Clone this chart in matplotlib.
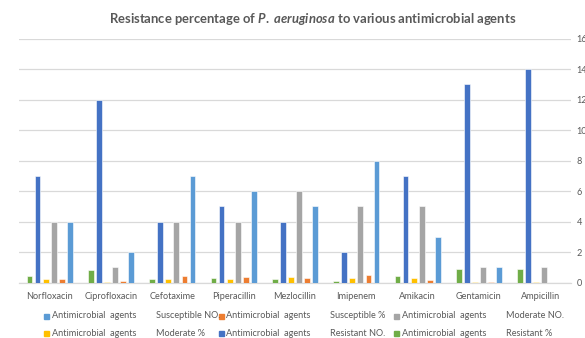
import matplotlib
matplotlib.use("Agg")
import matplotlib.pyplot as plt
import numpy as np
from matplotlib.patches import Rectangle

plt.rcParams['font.family'] = ['Lato', 'DejaVu Sans']
plt.rcParams['mathtext.fontset'] = 'custom'
plt.rcParams['mathtext.it'] = 'Lato:italic:bold'
plt.rcParams['mathtext.rm'] = 'Lato:bold'

categories = ["Norfloxacin", "Ciprofloxacin", "Cefotaxime", "Piperacillin", "Mezlocillin",
              "Imipenem", "Amikacin", "Gentamicin", "Ampicillin"]
resistant_pct = [0.47, 0.80, 0.27, 0.33, 0.27, 0.13, 0.47, 0.87, 0.93]
resistant_no = [7, 12, 4, 5, 4, 2, 7, 13, 14]
moderate_pct = [0.27, 0.07, 0.27, 0.27, 0.40, 0.33, 0.33, 0.07, 0.07]
moderate_no = [4, 1, 4, 4, 6, 5, 5, 1, 1]
susceptible_pct = [0.27, 0.13, 0.47, 0.40, 0.33, 0.53, 0.20, 0.07, 0.0]
susceptible_no = [4, 2, 7, 6, 5, 8, 3, 1, 0]
yticks = [0, 2, 4, 6, 8, 10, 12, 14, 16]

# drawing order inside each group (left to right)
series = [
    ("Resistant %", resistant_pct, "#70AD47"),
    ("Resistant NO.", resistant_no, "#4472C4"),
    ("Moderate %", moderate_pct, "#FFC000"),
    ("Moderate NO.", moderate_no, "#A5A5A5"),
    ("Susceptible %", susceptible_pct, "#ED7D31"),
    ("Susceptible NO.", susceptible_no, "#5B9BD5"),
]
legend_order = ["Susceptible NO.", "Susceptible %", "Moderate NO.",
                "Moderate %", "Resistant NO.", "Resistant %"]

W, H = 585, 338
fig = plt.figure(figsize=(W / 100, H / 100), dpi=100)
ax = fig.add_axes([19 / W, (H - 282.7) / H, 552 / W, 244.2 / H])

x = np.arange(len(categories))
pitch = 0.132
bw = 0.095
colors = {}
for i, (name, vals, col) in enumerate(series):
    off = (i - 2.5) * pitch
    ax.bar(x + off, vals, width=bw, color=col, edgecolor="white", linewidth=0.4, zorder=3)
    colors[name] = col

ax.set_xlim(-0.5, len(categories) - 0.5)
ax.set_ylim(0, 16)
ax.set_yticks(yticks)
ax.yaxis.tick_right()
ax.set_xticks(x)
ax.set_xticklabels(categories)
ax.tick_params(axis="both", length=0, labelsize=6.6, labelcolor="#595959")
ax.tick_params(axis="y", pad=4)
ax.tick_params(axis="x", pad=7)
for lab in ax.get_yticklabels():
    lab.set_horizontalalignment("left")
ax.grid(axis="y", color="#d9d9d9", linewidth=0.9, zorder=0)
for s in ["left", "right", "top"]:
    ax.spines[s].set_visible(False)
ax.spines["bottom"].set_color("#d9d9d9")
ax.spines["bottom"].set_linewidth(0.9)

# title
fig.text(313 / W, 1 - 19 / H,
         r"Resistance percentage of $P.\ aeruginosa$ to various antimicrobial agents",
         ha="center", va="center", fontsize=9.4, fontweight="bold", color="#595959")

# legend (manual, 3 columns x 2 rows)
col_x = [46.7, 221, 396]
row_y = [316, 333]
for k, name in enumerate(legend_order):
    c, r = k % 3, k // 3
    mx, my = col_x[c], row_y[r]
    fig.patches.append(Rectangle(((mx - 2.5) / W, 1 - (my + 2.5) / H), 5 / W, 5 / H,
                                 transform=fig.transFigure, color=colors[name]))
    fig.text((mx + 5.5) / W, 1 - my / H, "Antimicrobial  agents", ha="left", va="center",
             fontsize=6.6, color="#595959")
    fig.text((mx + 109.5) / W, 1 - my / H, name, ha="left", va="center",
             fontsize=6.6, color="#595959")

fig.savefig("out.png", dpi=100)
